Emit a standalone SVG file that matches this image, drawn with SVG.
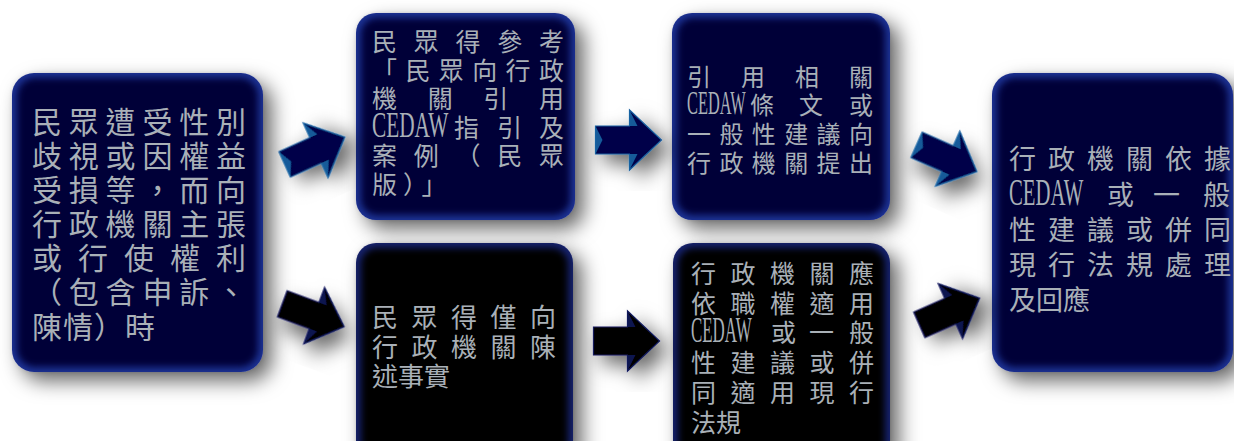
<svg xmlns="http://www.w3.org/2000/svg" width="1234" height="441" viewBox="0 0 1234 441">
<style>
.t{fill:#a9b0b7;font-family:"Liberation Serif","Noto Sans CJK TC",serif}
.edgeN{fill:#1e3294}
.coreN{fill:#000038}
.edgeK{fill:#16226e}
.coreK{fill:#000000}
.arN{fill:#000048;stroke:#185e9e;stroke-width:1.2;stroke-linejoin:miter}
.facN{fill:#1a6aa8;opacity:0.85}
.arK{fill:#000000;stroke:#121a5c;stroke-width:1.2;stroke-linejoin:miter}
.facK{fill:#0e1658;opacity:0.9}
</style>
<defs>
<filter id="sh" x="-25%" y="-25%" width="160%" height="160%">
<feDropShadow dx="9" dy="9" stdDeviation="10" flood-color="#000" flood-opacity="0.6"/>
</filter>
<filter id="soft" x="-10%" y="-10%" width="120%" height="120%">
<feGaussianBlur stdDeviation="3.5"/>
</filter>
<polygon id="arrow" points="-33,-14 1,-14 1,-30 33,0 1,30 1,14 -33,14"/>
</defs>
<rect width="1234" height="441" fill="#ffffff"/>

<g id="n1">
<rect class="edgeN" x="12" y="73" width="251" height="299" rx="22" filter="url(#sh)"/>
<rect class="coreN" x="17" y="78" width="241" height="289" rx="18" filter="url(#soft)"/>
<g class="t" font-size="30">
<text x="32" y="133" textLength="214" lengthAdjust="spacing">民眾遭受性別</text>
<text x="32" y="167" textLength="214" lengthAdjust="spacing">歧視或因權益</text>
<text x="32" y="201" textLength="214" lengthAdjust="spacing">受損等，而向</text>
<text x="32" y="235" textLength="214" lengthAdjust="spacing">行政機關主張</text>
<text x="32" y="269" textLength="214" lengthAdjust="spacing">或行使權利</text>
<text x="32" y="303" textLength="214" lengthAdjust="spacing">（包含申訴、</text>
<text x="32" y="338" letter-spacing="1">陳情）時</text>
</g>
</g>

<g id="n2">
<rect class="edgeN" x="356" y="13" width="219" height="207" rx="20" filter="url(#sh)"/>
<rect class="coreN" x="361" y="18" width="209" height="197" rx="16" filter="url(#soft)"/>
<g class="t" font-size="25">
<text x="372" y="51" textLength="192" lengthAdjust="spacing">民眾得參考</text>
<text x="372" y="80" textLength="192" lengthAdjust="spacing">「民眾向行政</text>
<text x="372" y="108" textLength="192" lengthAdjust="spacing">機關引用</text>
<text transform="translate(372,137) scale(0.591,1)" font-size="36">CEDAW</text>
<text x="454 497 539" y="137">指引及</text>
<text x="372" y="165" textLength="192" lengthAdjust="spacing">案例（民眾</text>
<text x="372" y="194" letter-spacing="6">版）」</text>
</g>
</g>

<g id="n3">
<rect class="edgeN" x="672" y="13" width="218" height="207" rx="20" filter="url(#sh)"/>
<rect class="coreN" x="677" y="18" width="208" height="197" rx="16" filter="url(#soft)"/>
<g class="t" font-size="24">
<text x="687" y="86" textLength="186" lengthAdjust="spacing">引用相關</text>
<text transform="translate(687,114) scale(0.496,1)" font-size="33">CEDAW</text>
<text x="750 799 849" y="114">條文或</text>
<text x="687" y="143" textLength="186" lengthAdjust="spacing">一般性建議向</text>
<text x="687" y="172" textLength="186" lengthAdjust="spacing">行政機關提出</text>
</g>
</g>

<g id="n4">
<rect class="edgeN" x="992" y="73" width="241" height="299" rx="22" filter="url(#sh)"/>
<rect class="coreN" x="997" y="78" width="231" height="289" rx="18" filter="url(#soft)"/>
<g class="t" font-size="27">
<text x="1009" y="169" textLength="222" lengthAdjust="spacing">行政機關依據</text>
<text transform="translate(1009,205) scale(0.546,1)" font-size="38">CEDAW</text>
<text x="1107 1153 1203" y="205">或一般</text>
<text x="1009" y="240" textLength="222" lengthAdjust="spacing">性建議或併同</text>
<text x="1009" y="275" textLength="222" lengthAdjust="spacing">現行法規處理</text>
<text x="1009" y="310">及回應</text>
</g>
</g>

<g id="n5">
<rect class="edgeK" x="356" y="243" width="217" height="220" rx="20" filter="url(#sh)"/>
<rect class="coreK" x="361" y="248" width="207" height="210" rx="16" filter="url(#soft)"/>
<g class="t" font-size="26">
<text x="372" y="327" textLength="184" lengthAdjust="spacing">民眾得僅向</text>
<text x="372" y="357" textLength="184" lengthAdjust="spacing">行政機關陳</text>
<text x="372" y="386">述事實</text>
</g>
</g>

<g id="n6">
<rect class="edgeK" x="673" y="243" width="217" height="220" rx="20" filter="url(#sh)"/>
<rect class="coreK" x="678" y="248" width="207" height="210" rx="16" filter="url(#soft)"/>
<g class="t" font-size="25">
<text x="691" y="283" textLength="183" lengthAdjust="spacing">行政機關應</text>
<text x="691" y="313" textLength="183" lengthAdjust="spacing">依職權適用</text>
<text transform="translate(691,342) scale(0.483,1)" font-size="35">CEDAW</text>
<text x="771 809 849" y="342">或一般</text>
<text x="691" y="372" textLength="183" lengthAdjust="spacing">性建議或併</text>
<text x="691" y="402" textLength="183" lengthAdjust="spacing">同適用現行</text>
<text x="691" y="432">法規</text>
</g>
</g>

<g id="connectors">
<g transform="translate(314.75,150.75) rotate(-24.4)" filter="url(#sh)">
<use href="#arrow" class="arN"/>
<polygon class="facN" points="-33,-14 -26,0 -33,14"/><polygon class="facN" points="1,-30 1,-14 9,-14"/><polygon class="facN" points="1,30 1,14 9,14"/>
</g>
<g transform="translate(628.5,140)" filter="url(#sh)">
<use href="#arrow" class="arN"/>
<polygon class="facN" points="-33,-14 -26,0 -33,14"/><polygon class="facN" points="1,-30 1,-14 9,-14"/><polygon class="facN" points="1,30 1,14 9,14"/>
</g>
<g transform="translate(946.75,158.25) rotate(23.9)" filter="url(#sh)">
<use href="#arrow" class="arN"/>
<polygon class="facN" points="-33,-14 -26,0 -33,14"/><polygon class="facN" points="1,-30 1,-14 9,-14"/><polygon class="facN" points="1,30 1,14 9,14"/>
</g>
<g transform="translate(313.25,315.25) rotate(20.3)" filter="url(#sh)">
<use href="#arrow" class="arK"/>
<polygon class="facK" points="1,-30 1,-14 9,-14"/><polygon class="facK" points="1,30 1,14 9,14"/>
</g>
<g transform="translate(626.5,341)" filter="url(#sh)">
<use href="#arrow" class="arK"/>
<polygon class="facK" points="1,-30 1,-14 9,-14"/><polygon class="facK" points="1,30 1,14 9,14"/>
</g>
<g transform="translate(949.5,311.5) rotate(-23.9)" filter="url(#sh)">
<use href="#arrow" class="arK"/>
<polygon class="facK" points="1,-30 1,-14 9,-14"/><polygon class="facK" points="1,30 1,14 9,14"/>
</g>
</g>
</svg>
